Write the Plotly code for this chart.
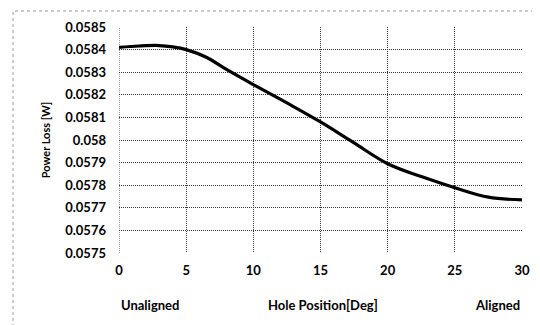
import plotly.graph_objects as go

hole_deg = [0, 1.5, 3, 4, 5, 6.5, 8, 10, 12.5, 15, 17.5, 20, 22.5, 25, 27.5, 30]
power_loss = [0.05841, 0.058416, 0.058418, 0.058412, 0.0584, 0.058366, 0.058312,
              0.058245, 0.058164, 0.05808, 0.057987, 0.057895, 0.057838, 0.057789,
              0.057747, 0.057735]

x_ticks = [0, 5, 10, 15, 20, 25, 30]
y_ticks = [0.0575, 0.0576, 0.0577, 0.0578, 0.0579, 0.058, 0.0581, 0.0582, 0.0583, 0.0584, 0.0585]
y_tick_labels = ["0.0575", "0.0576", "0.0577", "0.0578", "0.0579", "0.058",
                 "0.0581", "0.0582", "0.0583", "0.0584", "0.0585"]

FONT = "Lato"
GRID = "#333333"
DASH = "1px,1px"

fig = go.Figure()
fig.add_trace(go.Scatter(x=hole_deg, y=power_loss, mode="lines",
                         line=dict(color="black", width=3.2, shape="spline", smoothing=1),
                         showlegend=False, hoverinfo="skip"))

tick_font = dict(family=FONT, size=13, color="black", weight="bold")

fig.update_layout(
    width=540, height=325,
    margin=dict(l=111, r=26, t=19, b=80),
    paper_bgcolor="white", plot_bgcolor="white",
    font=dict(family=FONT, size=13, color="black"),
    xaxis=dict(range=[0, 30], tickvals=x_ticks, showgrid=True,
               gridcolor=GRID, griddash=DASH, gridwidth=1,
               zeroline=False, showline=False, ticks="",
               tickfont=tick_font, ticklabelstandoff=8),
    yaxis=dict(range=[0.0575, 0.0585], tickvals=y_ticks, ticktext=y_tick_labels,
               showgrid=True, gridcolor=GRID, griddash=DASH, gridwidth=1,
               zeroline=False, showline=False, ticks="",
               tickfont=tick_font, ticklabelstandoff=12,
               title=dict(text="Power Loss [W]", standoff=12,
                          font=dict(family=FONT, size=11, color="black", weight="bold"))),
)

# plot-area left border (dotted)
fig.add_shape(type="line", xref="x", yref="y", x0=0, x1=0, y0=0.0575, y1=0.0585,
              line=dict(color=GRID, width=1, dash=DASH))

# outer chart border
fig.add_shape(type="rect", xref="paper", yref="paper",
              x0=-0.263, x1=1.052, y0=-0.341, y1=1.071,
              line=dict(color="#999999", width=1, dash="dot"))

ann_font = dict(family=FONT, size=13, color="black", weight="bold")
fig.add_annotation(x=0, y=-0.23, xref="x", yref="paper", text="Unaligned",
                   showarrow=False, xanchor="left", yanchor="middle", font=ann_font)
fig.add_annotation(x=15.2, y=-0.23, xref="x", yref="paper", text="Hole Position[Deg]",
                   showarrow=False, xanchor="center", yanchor="middle", font=ann_font)
fig.add_annotation(x=30, y=-0.23, xref="x", yref="paper", text="Aligned",
                   showarrow=False, xanchor="right", yanchor="middle", font=ann_font)

fig.write_html("out.html")
